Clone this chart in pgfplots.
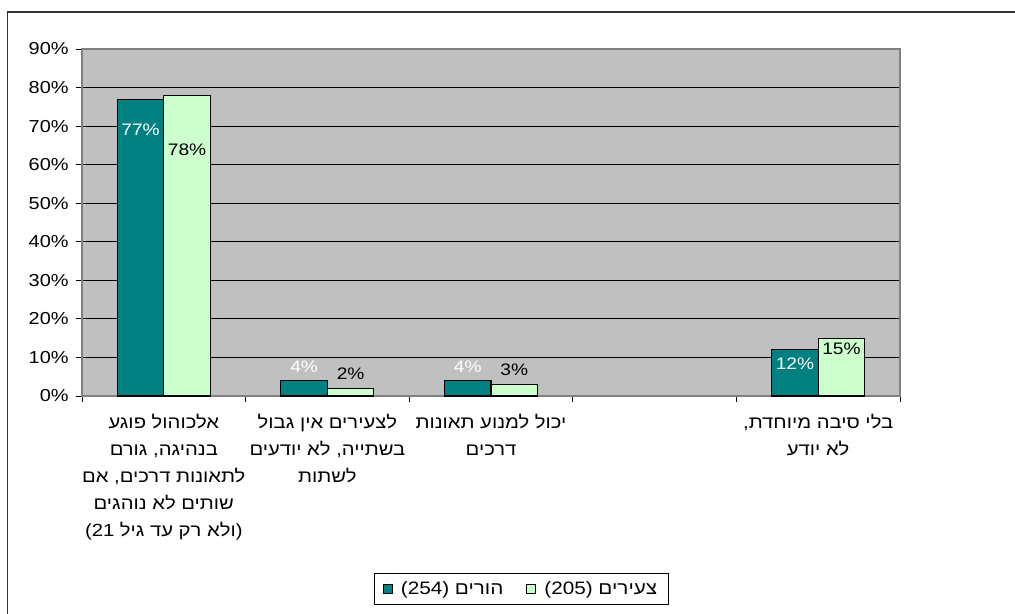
\documentclass[border=0pt]{standalone}
\usepackage{fontspec}
\setmainfont{Liberation Sans}[FakeStretch=1.15]
\newfontfamily\heb[Script=Hebrew, FakeStretch=1.15]{Liberation Sans}
\TeXXeTstate=1
\usepackage{pgfplots}
\usepackage{pgfplotstable}
\pgfplotsset{compat=1.18}

\definecolor{parentc}{HTML}{008080}
\definecolor{youthc}{HTML}{CCFFCC}
\definecolor{plotbg}{HTML}{C0C0C0}
\definecolor{frameg}{HTML}{808080}

% x = category, y = percent, off = label offset from bar top (pt)
\pgfplotstableread{
x y off
0 77 -23
1 4 10
2 4 10
4 12 -10.5
}\parents
\pgfplotstableread{
x y off
0 78 -41
1 2 11
2 3 11
4 15 -8
}\youth

\begin{document}
\begin{tikzpicture}[x=0.75pt,y=0.75pt]
\begin{axis}[
  scale only axis, width=613.5pt, height=260.25pt,
  ybar=0pt, bar width=34.9pt,
  xmin=-0.5, xmax=4.5, ymin=0, ymax=90,
  ytick={0,10,...,90},
  yticklabel={\pgfmathprintnumber{\tick}\%},
  /pgf/number format/assume math mode=true,
  yticklabel style={font=\fontsize{13}{14}\selectfont, xshift=-2pt},
  xtick={-0.5,0.5,...,4.5},
  xticklabels={},
  extra x ticks={0,1,2,3,4},
  extra x tick labels={
    {\beginR אלכוהול פוגע\endR\\\beginR בנהיגה, גורם\endR\\\beginR לתאונות דרכים, אם\endR\\\beginR שותים לא נוהגים\endR\\\beginR (ולא רק עד גיל 21)\endR},
    {\beginR לצעירים אין גבול\endR\\\beginR בשתייה, לא יודעים\endR\\\beginR לשתות\endR},
    {\beginR יכול למנוע תאונות\endR\\\beginR דרכים\endR},
    {},
    {\beginR בלי סיבה מיוחדת,\endR\\\beginR לא יודע\endR}},
  extra x tick style={major tick length=0pt, grid=none,
    tick label style={align=center, yshift=-10pt,
      font=\heb\fontsize{13.2}{20.25}\selectfont}},
  xtick pos=bottom, ytick pos=left,
  tick align=outside,
  major tick length=4.5pt,
  tick style={black, line width=0.6pt},
  ymajorgrids=true,
  major grid style={black, line width=0.6pt},
  axis background/.style={fill=plotbg},
  axis line style={frameg, line width=0.8pt},
  nodes near coords={\pgfmathprintnumber[fixed,precision=0]{\pgfplotspointmeta}\%},
  every node near coord/.append style={anchor=center,
    font=\fontsize{12.5}{14}\selectfont},
  legend columns=2,
  legend style={at={(0.537,-0.556)}, anchor=center, draw=black,
    line width=0.6pt, inner xsep=6pt, inner ysep=4pt,
    font=\heb\fontsize{13.5}{15}\selectfont,
    /tikz/every even column/.append style={column sep=15pt}},
  legend image code/.code={\draw[#1, draw=black, line width=0.6pt]
    (0pt,-3.5pt) rectangle (7pt,3.5pt); \path (11pt,0pt);},
]
\addplot[fill=parentc, draw=black, line width=0.8pt,
  visualization depends on={\thisrow{off} \as \off},
  every node near coord/.append style={white, yshift=\off pt}]
  table[x=x, y=y] {\parents};
\addplot[fill=youthc, draw=black, line width=0.8pt,
  visualization depends on={\thisrow{off} \as \off},
  every node near coord/.append style={black, yshift=\off pt}]
  table[x=x, y=y] {\youth};
\legend{\beginR הורים (254)\endR, \beginR צעירים (205)\endR}
\end{axis}
% outer frame (cropped at right and bottom in the reference)
\draw[line width=1pt, black!80] (-74.5,-225) -- (-74.5,384) -- (940,384);
\pgfresetboundingbox
\path[use as bounding box] (-82,-218) rectangle (933,396);
\end{tikzpicture}
\end{document}
